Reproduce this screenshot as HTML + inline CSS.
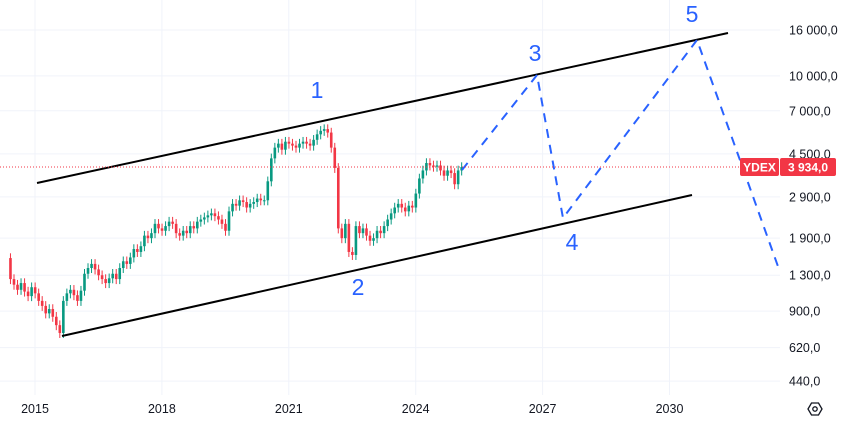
<!DOCTYPE html>
<html><head><meta charset="utf-8"><style>
body{margin:0;background:#fff;font-family:"Liberation Sans",sans-serif}
svg{display:block}
</style></head><body>
<svg id="chart" width="844" height="421" xmlns="http://www.w3.org/2000/svg">
<g id="grid"></g>
<g id="candles"></g>
<g id="draw">
 <line x1="37" y1="183" x2="728" y2="33" stroke="#000" stroke-width="2"/>
 <line x1="62" y1="336" x2="692" y2="195" stroke="#000" stroke-width="2"/>
 <polyline points="462,170 537,75 563,218 697,40 780,272" fill="none" stroke="#2962ff" stroke-width="2" stroke-dasharray="9,7"/>
 <g font-size="23" fill="#2962ff" text-anchor="middle">
  <text x="317" y="98">1</text>
  <text x="358" y="295">2</text>
  <text x="535" y="61">3</text>
  <text x="572" y="250">4</text>
  <text x="692" y="22">5</text>
 </g>
</g>
<g id="axes"></g>
<line x1="0" y1="167" x2="740" y2="167" stroke="#f23645" stroke-width="1" stroke-dasharray="1,2"/>
<rect x="740" y="158" width="39" height="18" rx="2" fill="#f23645"/>
<text x="759.5" y="171.5" font-size="12" font-weight="bold" fill="#fff" text-anchor="middle">YDEX</text>
<rect x="780" y="158" width="56" height="18" rx="2" fill="#f23645"/>
<text x="808" y="171.5" font-size="12" font-weight="bold" fill="#fff" text-anchor="middle">3 934,0</text>
<g transform="translate(815,409)">
 <polygon points="-7,0 -3.5,-6 3.5,-6 7,0 3.5,6 -3.5,6" fill="none" stroke="#131722" stroke-width="1.3"/>
 <circle r="2.2" fill="none" stroke="#131722" stroke-width="1.3"/>
</g>
</svg>
<script>
const yTicks=[16000,10000,7000,4500,2900,1900,1300,900,620,440];
const yTickLabels=["16 000,0","10 000,0","7 000,0","4 500,0","2 900,0","1 900,0","1 300,0","900,0","620,0","440,0"];
const xTicks=[2015,2018,2021,2024,2027,2030];
const startYear=2014.42;
const closes=[1250,1180,1120,1200,1100,1050,1150,
1080,1000,950,880,920,850,780,720,
1000,1080,1120,1060,1000,1110,
1320,1400,1460,1380,
1300,1250,1200,1260,1320,1250,
1400,1500,1460,1560,1700,1650,
1750,1950,1900,2000,2200,2100,2050,
2150,2250,2200,2000,1950,2050,
2000,2150,2100,2250,2300,2350,2400,2450,2380,
2300,2200,2050,2500,2700,2650,
2800,2750,2600,2700,2750,2850,2800,2800,
3400,4300,4800,5000,
4700,5100,5000,4900,4800,5000,5100,
5000,4900,5200,5500,5700,5800,5600,
4800,3900,2100,1900,
2200,1650,1600,2150,2000,2100,
1950,1850,1900,2050,2000,2150,2300,
2450,2600,2700,2600,2500,2650,2600,
3000,3500,3800,4100,4000,3950,
4000,3800,3600,3800,3700,3300,3800,3934];
const firstOpen=1550;
const NS='http://www.w3.org/2000/svg';
function yScale(v){return 30+97.7*Math.log(16000/v);}
function xScale(t){return 35+(t-2015)*42.3;}
function mk(tag,attrs,parent){const e=document.createElementNS(NS,tag);for(const k in attrs)e.setAttribute(k,attrs[k]);parent.appendChild(e);return e;}
const grid=document.getElementById('grid'),axes=document.getElementById('axes'),cg=document.getElementById('candles');
yTicks.forEach((v,i)=>{
 const l=mk('line',{x1:0,x2:780,y1:yScale(v),y2:yScale(v),stroke:'#f0f3fa','stroke-width':1},grid);
 
 
 const t=mk('text',{x:789,y:yScale(v)+4.5,'font-size':'12.5',fill:'#131722'},axes);
 t.textContent=yTickLabels[i];
 
 
});
xTicks.forEach(yr=>{
 const l=mk('line',{x1:xScale(yr),x2:xScale(yr),y1:0,y2:395,stroke:'#f0f3fa','stroke-width':1},grid);
 
 
 const t=mk('text',{x:xScale(yr),y:413,'font-size':'12.5',fill:'#131722','text-anchor':'middle'},axes);
 t.textContent=String(yr);
 
 
});
closes.forEach((c,i)=>{
 const o=i===0?firstOpen:closes[i-1];
 const hi=Math.max(o,c)*1.05,lo=Math.min(o,c)*0.95;
 const x=xScale(startYear+i/12);
 const col=c>=o?'#089981':'#f23645';
 const g=mk('g',{},cg);
 
 
 mk('line',{x1:x,x2:x,y1:yScale(hi),y2:yScale(lo),stroke:col,'stroke-width':1},g);
 const y1=yScale(Math.max(o,c)),y2=yScale(Math.min(o,c));
 mk('rect',{x:x-1.3,y:y1,width:2.6,height:Math.max(1,y2-y1),fill:col},g);
});
</script>
</body></html>
